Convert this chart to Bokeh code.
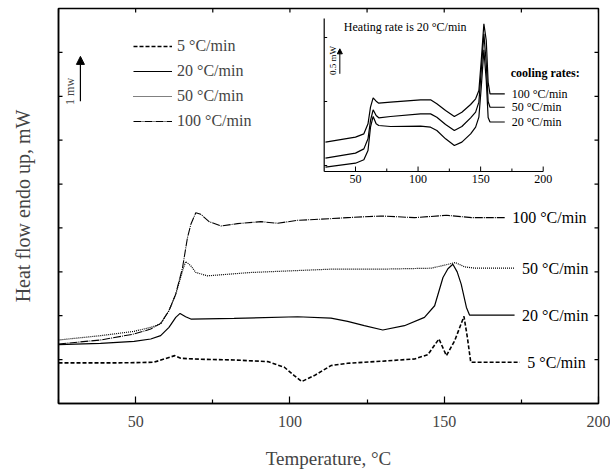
import math
from bokeh.plotting import figure
from bokeh.models import (Range1d, FixedTicker, Legend, LegendItem,
                          Arrow, NormalHead, Label)
from bokeh.core.properties import value
from bokeh.embed import file_html
from bokeh.resources import INLINE

FONT = "Liberation Serif"

# ---------------- main chart data (Temperature °C, heat flow mW, offset curves) ----------------
T5 = [25, 44, 55.9, 60.3, 62.7, 64.6, 71.1, 81.9, 92.8, 98.2, 101.4, 103.8, 107.9, 113.3,
      118.7, 129.5, 140.4, 144.7, 148.3, 150.7, 153.4, 156.4, 157.5, 158.6, 174.5]
H5 = [0.925, 0.925, 0.939, 1.038, 1.091, 1.03, 1.008, 0.992, 0.955, 0.826, 0.636, 0.5, 0.636, 0.864,
      0.917, 0.962, 1.015, 1.114, 1.47, 1.091, 1.432, 1.985, 1.508, 0.939, 0.939]

T20 = [25, 38.6, 49.5, 54.9, 58.1, 60.8, 63, 64.4, 66.2, 67.9, 81.9, 102.5, 113.3, 118.7, 124.1,
       130.1, 137.1, 143.6, 146.9, 149.6, 151.2, 152.8, 154.2, 155.5, 157.2, 158.2, 172.8]
H20 = [1.341, 1.371, 1.417, 1.47, 1.545, 1.735, 1.962, 2.053, 1.977, 1.924, 1.939, 1.977, 1.947, 1.871, 1.773,
       1.674, 1.773, 1.962, 2.227, 2.871, 3.07, 3.174, 3.0, 2.72, 2.189, 2.015, 2.015]

T50 = [25, 38.6, 49.5, 54.9, 58.1, 60.8, 63, 65.2, 66.2, 67.9, 69.5, 73.3, 87.3, 113.3, 129.5,
       145.8, 150.1, 153.6, 156.6, 159.9, 172.8]
H50 = [1.447, 1.545, 1.644, 1.735, 1.811, 2.114, 2.492, 3.023, 3.235, 3.136, 2.985, 2.909, 2.985, 3.061, 3.061,
       3.083, 3.152, 3.212, 3.114, 3.083, 3.083]

T100 = [25, 38.6, 49.5, 54.9, 58.1, 60.8, 63, 65.2, 66.8, 67.9, 69.5, 71.1, 73.8, 77.6, 83, 90.6, 96,
        102.5, 113.3, 118.7, 129.5, 140.4, 150.7, 158.9, 169.6]
H100 = [1.356, 1.447, 1.583, 1.697, 1.826, 2.114, 2.492, 3.098, 3.78, 4.083, 4.348, 4.311, 4.144, 4.045, 4.098,
        4.144, 4.106, 4.174, 4.212, 4.235, 4.273, 4.235, 4.288, 4.235, 4.235]

RATE_LABELS = ["5 \u00b0C/min", "20 \u00b0C/min", "50 \u00b0C/min", "100 \u00b0C/min"]

X_RANGE = (25, 200)
Y_RANGE = (0, 9)
X_TICKS = [50, 100, 150, 200]
X_MINOR = [25, 75, 125, 175]
TOP_TICKS = [25, 50, 75, 100, 125, 150, 175, 200]
Y_TICKS = list(range(10))

# ---------------- inset data (heating at 20 °C/min after different cooling rates) ----------------
IT = [26, 50, 56.7, 60, 62, 64.1, 66.5, 68.6, 78, 102, 110, 115, 122, 129, 135, 142, 146,
      148.6, 150.5, 152.6, 154.5, 156, 157.5, 169.3]
I100 = [0.365, 0.443, 0.495, 0.651, 0.911, 1.057, 1.005, 0.974, 0.99, 1.026, 1.026, 0.964, 0.859, 0.766,
        0.833, 0.953, 1.042, 1.172, 1.641, 2.214, 1.953, 1.3, 1.12, 1.12]
I50 = [0.115, 0.193, 0.26, 0.417, 0.703, 0.87, 0.781, 0.745, 0.766, 0.807, 0.807, 0.755, 0.641, 0.547,
       0.609, 0.745, 0.833, 0.99, 1.484, 2.057, 1.589, 1.0, 0.91, 0.91]
I20 = [-0.026, 0.036, 0.089, 0.234, 0.599, 0.766, 0.651, 0.625, 0.609, 0.615, 0.599, 0.547, 0.417, 0.3125,
       0.365, 0.495, 0.599, 0.755, 1.224, 1.807, 1.328, 0.75, 0.68, 0.68]
INSET_LABELS = ["100 \u00b0C/min", "50 \u00b0C/min", "20 \u00b0C/min"]
INSET_X_TICKS = [50, 100, 150, 200]
INSET_X_MINOR = [75, 125, 175]
INSET_Y_TICKS = [0, 1, 2]
INSET_X = (25, 200)
INSET_Y = (-0.094, 2.297)

# ---------------- figure ----------------
FW, FH = 540, 395
p = figure(frame_width=FW, frame_height=FH, x_range=Range1d(*X_RANGE), y_range=Range1d(*Y_RANGE),
           output_backend="svg", toolbar_location=None,
           min_border_left=58, min_border_right=12, min_border_top=8, min_border_bottom=2)
p.grid.visible = False
p.outline_line_color = "black"
p.outline_line_width = 1.5

xa = p.xaxis[0]
xa.axis_line_width = 1.5
xa.ticker = FixedTicker(ticks=X_TICKS, minor_ticks=X_MINOR)
xa.major_tick_in = 7
xa.major_tick_out = 0
xa.minor_tick_in = 4
xa.minor_tick_out = 0
xa.major_tick_line_width = 1.2
xa.minor_tick_line_width = 1.2
xa.major_label_text_font = FONT
xa.major_label_text_font_size = "16px"
xa.major_label_standoff = 12
xa.axis_label = "Temperature, \u00b0C"
xa.axis_label_text_font = FONT
xa.axis_label_text_font_size = "19px"
xa.axis_label_text_font_style = "normal"
xa.axis_label_standoff = 18

ya = p.yaxis[0]
ya.axis_line_width = 1.5
ya.ticker = FixedTicker(ticks=[])
ya.major_tick_in = 0
ya.major_tick_out = 0
ya.minor_tick_in = 0
ya.minor_tick_out = 0
ya.axis_label = "Heat flow endo up, mW"
ya.axis_label_text_font = FONT
ya.axis_label_text_font_size = "20px"
ya.axis_label_text_font_style = "normal"
ya.axis_label_standoff = 25

# tick marks on left / right / top frame edges (inward)
tick = dict(line_color="black", line_width=1.2, length_units="screen")
p.ray(x=X_RANGE[0], y=Y_TICKS, length=4, angle=0, **tick)
p.ray(x=X_RANGE[1], y=Y_TICKS, length=4, angle=math.pi, **tick)
p.ray(x=TOP_TICKS, y=Y_RANGE[1], length=4, angle=-math.pi / 2, **tick)

# main curves
r5 = p.line(T5, H5, line_color="black", line_width=1.6, line_dash="4 2")
r20 = p.line(T20, H20, line_color="black", line_width=1.2)
r50 = p.line(T50, H50, line_color="black", line_width=1.2, line_dash="1 1")
r100 = p.line(T100, H100, line_color="black", line_width=1.1, line_dash="8 1 1 1")

p.text(x=[T100[-1], T50[-1], T20[-1], T5[-1]], y=[H100[-1], H50[-1], H20[-1], H5[-1]],
       text=RATE_LABELS[::-1], x_offset=7.5, text_baseline="middle", text_align="left",
       text_font=value(FONT), text_font_size="16px", text_color="black")

legend = Legend(items=[LegendItem(label=RATE_LABELS[0], renderers=[r5]),
                       LegendItem(label=RATE_LABELS[1], renderers=[r20]),
                       LegendItem(label=RATE_LABELS[2], renderers=[r50]),
                       LegendItem(label=RATE_LABELS[3], renderers=[r100])],
                location=(75, 272), glyph_width=39, glyph_height=20, label_height=20,
                spacing=5, label_standoff=5, padding=0, margin=0,
                border_line_color=None, background_fill_alpha=0,
                label_text_font=FONT, label_text_font_size="16px")
p.add_layout(legend)

# 1 mW scale arrow
p.add_layout(Arrow(end=NormalHead(size=8, fill_color="black", line_color="black"),
                   x_start=32.1, y_start=6.886, x_end=32.1, y_end=7.909,
                   line_width=1.2, line_color="black"))
p.add_layout(Label(x=28.6, y=7.11, text="1 mw", angle=math.pi / 2, text_align="center",
                   text_baseline="middle", text_font=FONT, text_font_size="12px"))

# ---------------- inset via extra ranges ----------------
IN_LEFT_PX, IN_W_PX = 265.7, 219.0     # frame-relative pixel placement
IN_ZERO_PX, IN_UNIT_PX = 238.0, 64.0   # y=0 height above frame bottom, px per unit
sx = IN_W_PX / (INSET_X[1] - INSET_X[0])
ix0 = INSET_X[0] - IN_LEFT_PX / sx
iy0 = -IN_ZERO_PX / IN_UNIT_PX
p.extra_x_ranges = {"ix": Range1d(ix0, ix0 + FW / sx)}
p.extra_y_ranges = {"iy": Range1d(iy0, iy0 + FH / IN_UNIT_PX)}
kw = dict(x_range_name="ix", y_range_name="iy")

for ys in (I100, I50, I20):
    p.line(IT, ys, line_color="black", line_width=1.2, **kw)

p.line(list(INSET_X), [INSET_Y[0]] * 2, line_color="black", line_width=1.2, **kw)
p.line([INSET_X[0]] * 2, list(INSET_Y), line_color="black", line_width=1.2, **kw)
p.ray(x=INSET_X_TICKS, y=INSET_Y[0], length=5, length_units="screen", angle=math.pi / 2,
      line_color="black", line_width=1, **kw)
p.ray(x=INSET_X_MINOR, y=INSET_Y[0], length=3, length_units="screen", angle=math.pi / 2,
      line_color="black", line_width=1, **kw)
p.ray(x=INSET_X[0], y=INSET_Y_TICKS, length=3, length_units="screen", angle=0,
      line_color="black", line_width=1, **kw)
p.text(x=INSET_X_TICKS, y=INSET_Y[0], text=[str(t) for t in INSET_X_TICKS], y_offset=3,
       text_baseline="top", text_align="center", text_font=value(FONT), text_font_size="12px",
       text_color="black", **kw)

p.text(x=[IT[-1]] * 3, y=[I100[-1], I50[-1], I20[-1]], text=INSET_LABELS, x_offset=7,
       text_baseline="middle", text_align="left", text_font=value(FONT),
       text_font_size="12px", text_color="black", **kw)
p.text(x=[IT[-1]], y=[1.44], text=["cooling rates:"], x_offset=6, text_baseline="middle",
       text_align="left", text_font=value(FONT), text_font_size="12px",
       text_font_style="bold", text_color="black", **kw)
p.text(x=[40.7], y=[2.17], text=["Heating rate is 20 \u00b0C/min"], text_baseline="middle",
       text_align="left", text_font=value(FONT), text_font_size="12px", text_color="black", **kw)
p.text(x=[32.4], y=[1.64], text=["0.5 mW"], angle=math.pi / 2, text_baseline="middle",
       text_align="center", text_font=value(FONT), text_font_size="9px", text_color="black", **kw)
p.add_layout(Arrow(end=NormalHead(size=5, fill_color="black", line_color="black"),
                   x_start=37.5, y_start=1.433, x_end=37.5, y_end=1.823,
                   line_width=1, line_color="black", **kw))

open("out.html", "w").write(file_html(p, INLINE))
